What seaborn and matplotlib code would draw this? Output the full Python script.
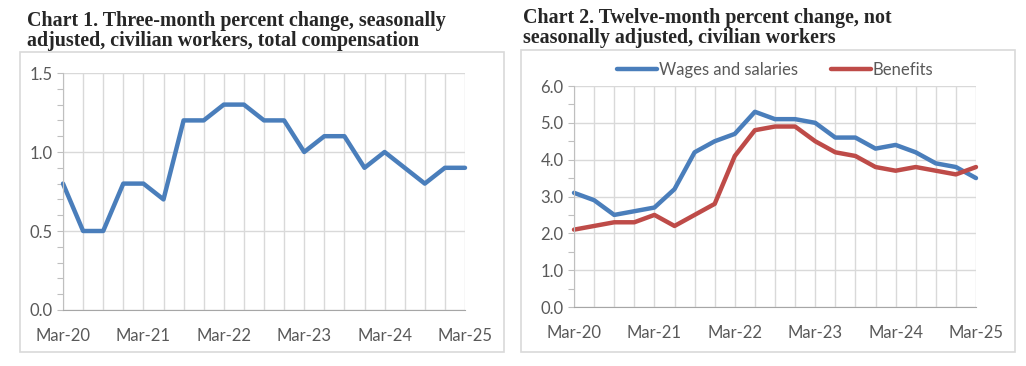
import pandas as pd
import matplotlib.pyplot as plt
import seaborn as sns
from matplotlib.patches import Rectangle
from matplotlib.ticker import MultipleLocator

# data: quarterly, Mar-20 .. Mar-25
quarters = ["Mar-20", "Jun-20", "Sep-20", "Dec-20",
            "Mar-21", "Jun-21", "Sep-21", "Dec-21",
            "Mar-22", "Jun-22", "Sep-22", "Dec-22",
            "Mar-23", "Jun-23", "Sep-23", "Dec-23",
            "Mar-24", "Jun-24", "Sep-24", "Dec-24",
            "Mar-25"]
total_comp = [0.8, 0.5, 0.5, 0.8, 0.8, 0.7, 1.2, 1.2, 1.3, 1.3, 1.2,
              1.2, 1.0, 1.1, 1.1, 0.9, 1.0, 0.9, 0.8, 0.9, 0.9]
wages = [3.1, 2.9, 2.5, 2.6, 2.7, 3.2, 4.2, 4.5, 4.7, 5.3, 5.1,
         5.1, 5.0, 4.6, 4.6, 4.3, 4.4, 4.2, 3.9, 3.8, 3.5]
benefits = [2.1, 2.2, 2.3, 2.3, 2.5, 2.2, 2.5, 2.8, 4.1, 4.8, 4.9,
            4.9, 4.5, 4.2, 4.1, 3.8, 3.7, 3.8, 3.7, 3.6, 3.8]
year_labels = ["Mar-20", "Mar-21", "Mar-22", "Mar-23", "Mar-24", "Mar-25"]

titles = ["Chart 1. Three-month percent change, seasonally\nadjusted, civilian workers, total compensation",
          "Chart 2. Twelve-month percent change, not\nseasonally adjusted, civilian workers"]

BLUE = "#4a7ebb"
RED = "#be4b48"
GRID = "#d9d9d9"
TEXT = "#595959"

df1 = pd.DataFrame({"idx": range(len(quarters)), "value": total_comp})
df2 = pd.DataFrame({
    "idx": list(range(len(quarters))) * 2,
    "value": wages + benefits,
    "series": ["Wages and salaries"] * len(wages) + ["Benefits"] * len(benefits),
})

sns.set_style("white")
plt.rcParams["font.family"] = ["Lato", "DejaVu Sans"]

W, H = 1026, 366
fig = plt.figure(figsize=(W / 100, H / 100), dpi=100)

def px_axes(l, t, r, b):
    return fig.add_axes([l / W, 1 - b / H, (r - l) / W, (b - t) / H])

# chart frames
for (l, t, r, b) in [(20, 52, 504, 352), (521, 50, 1015, 352)]:
    fig.patches.append(Rectangle((l / W, 1 - b / H), (r - l) / W, (b - t) / H,
                                 transform=fig.transFigure, fill=False,
                                 edgecolor="#d9d9d9", linewidth=1.2))

ax1 = px_axes(63, 73, 465, 310)
ax2 = px_axes(574, 86, 976, 307)

sns.lineplot(data=df1, x="idx", y="value", ax=ax1, color=BLUE, linewidth=3.2,
             clip_on=False)
sns.lineplot(data=df2, x="idx", y="value", hue="series", ax=ax2,
             palette={"Wages and salaries": BLUE, "Benefits": RED}, linewidth=3.2,
             clip_on=False)

def style(ax, ymax, ymajor, yminor, fmt):
    ax.set_xlim(0, len(quarters) - 1)
    ax.set_ylim(0, ymax)
    ax.set_xticks(range(0, len(quarters), 4))
    ax.set_xticklabels(year_labels)
    ax.xaxis.set_minor_locator(MultipleLocator(1))
    ax.yaxis.set_major_locator(MultipleLocator(ymajor))
    ax.yaxis.set_minor_locator(MultipleLocator(yminor))
    ax.yaxis.set_major_formatter(fmt)
    ax.grid(True, axis="x", which="both", color=GRID, linewidth=1)
    ax.grid(True, axis="y", which="major", color=GRID, linewidth=1)
    ax.tick_params(axis="x", which="major", length=5, color="#a6a6a6", width=1,
                   labelsize=12, labelcolor=TEXT, pad=8)
    ax.tick_params(axis="x", which="minor", length=0)
    ax.tick_params(axis="y", which="both", length=4, color="#bfbfbf", width=0.8,
                   labelsize=12, labelcolor=TEXT, left=True)
    ax.set_xlabel("")
    ax.set_ylabel("")
    for s in ["top", "right"]:
        ax.spines[s].set_visible(False)
    ax.spines["left"].set_color("#bfbfbf")
    ax.spines["bottom"].set_color("#a6a6a6")
    ax.set_axisbelow(True)

style(ax1, 1.5, 0.5, 0.1, "{x:.1f}")
style(ax2, 6.0, 1.0, 0.5, "{x:.1f}")

leg = ax2.legend(loc="lower center", bbox_to_anchor=(0.5, 1.0), ncol=2, frameon=False,
                 fontsize=12, handlelength=2.4, handletextpad=0.1, columnspacing=2.0,
                 borderaxespad=0.1)
for t in leg.get_texts():
    t.set_color(TEXT)

fig.text(27 / W, 1 - 11 / H, titles[0], ha="left", va="top",
         family="Liberation Serif", fontweight="bold", fontsize=14.4, linespacing=1.0)
fig.text(523 / W, 1 - 8 / H, titles[1], ha="left", va="top",
         family="Liberation Serif", fontweight="bold", fontsize=14.4, linespacing=1.0)

fig.savefig("out.png", dpi=100)
